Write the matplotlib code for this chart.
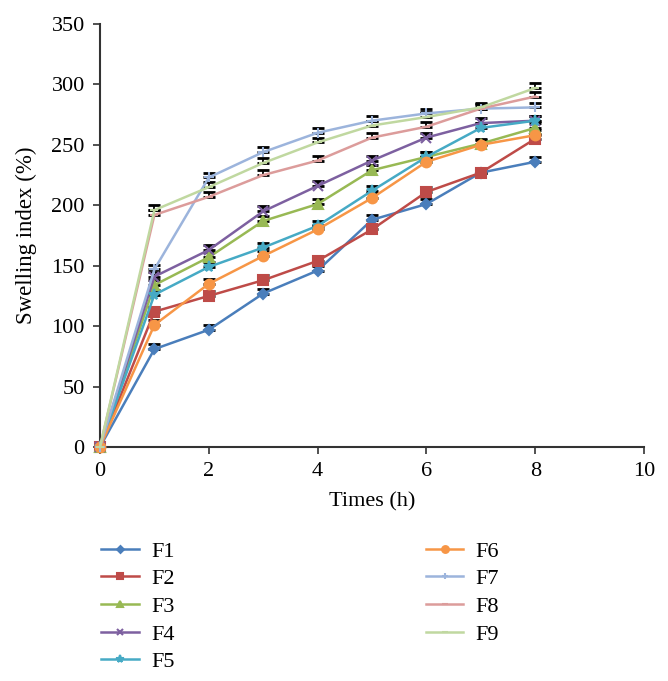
import numpy as np
import matplotlib.pyplot as plt

plt.rcParams['font.family'] = ['Liberation Serif', 'DejaVu Serif']

# Time points (h)
times = [0, 1, 2, 3, 4, 5, 6, 7, 8]

# Swelling index (%) per formulation
f1 = [0, 81, 97, 127, 146, 188, 201, 227, 236]
f2 = [0, 112, 125, 138, 154, 180, 211, 227, 255]
f3 = [0, 134, 157, 187, 201, 229, 240, 251, 264]
f4 = [0, 141, 163, 195, 216, 237, 256, 268, 270]
f5 = [0, 126, 149, 165, 183, 212, 240, 264, 270]
f6 = [0, 101, 135, 158, 180, 206, 236, 250, 258]
f7 = [0, 147, 223, 244, 260, 270, 276, 280, 281]
f8 = [0, 192, 207, 225, 237, 256, 265, 280, 290]
f9 = [0, 196, 215, 235, 252, 266, 273, 281, 297]

# upper error bar sizes (approx)
err = [0, 4, 4, 4, 4, 4, 4, 4, 4]

names = ['F1', 'F2', 'F3', 'F4', 'F5', 'F6', 'F7', 'F8', 'F9']
series = [f1, f2, f3, f4, f5, f6, f7, f8, f9]
colors = ['#4a7ebb', '#be4b48', '#98b954', '#7d60a0', '#46aac5',
          '#f79646', '#9cb4dc', '#dc9c9b', '#c0d8a0']
markers = ['D', 's', '^', 'x', '*', 'o', '+', '_', '_']
msizes = [5, 7, 7, 7, 8, 7, 7, 6, 6]

fig = plt.figure(figsize=(6.68, 6.81), dpi=100)
ax = fig.add_axes([100 / 668, 1 - 447 / 681, 544 / 668, 423 / 681])

lines = []
zeros = [0] * len(err)
for name, vals, c, m, ms in zip(names, series, colors, markers, msizes):
    ax.errorbar(times, vals, yerr=[zeros, err], fmt='none', ecolor='black',
                elinewidth=1.3, capsize=4, capthick=2, zorder=2)
    ln, = ax.plot(times, vals, color=c, marker=m, markersize=ms,
                  markeredgewidth=1.5, linewidth=1.8, label=name, zorder=3)
    lines.append(ln)

ax.set_xlim(0, 10)
ax.set_ylim(0, 350)
ax.set_xticks(range(0, 11, 2))
ax.set_yticks(range(0, 351, 50))
ax.spines['top'].set_visible(False)
ax.spines['right'].set_visible(False)
for s in ['left', 'bottom']:
    ax.spines[s].set_color('#333333')
    ax.spines[s].set_linewidth(1.5)
ax.tick_params(axis='both', direction='out', length=5, width=1.2,
               color='#333333', labelsize=16, pad=6)
for ln in lines:
    ln.set_clip_on(False)

ax.set_xlabel('Times (h)', fontsize=16, labelpad=8)
ax.set_ylabel('Swelling index (%)', fontsize=16.5, labelpad=10)

leg = fig.legend(handles=lines, loc='upper left', ncol=2,
                 bbox_to_anchor=(101 / 668, 1 - 541 / 681),
                 frameon=False, fontsize=16, columnspacing=11.3,
                 handlelength=1.7, labelspacing=0.32, handletextpad=0.55,
                 borderpad=0, borderaxespad=0, markerscale=0.7)

fig.savefig('out.png', dpi=100)
